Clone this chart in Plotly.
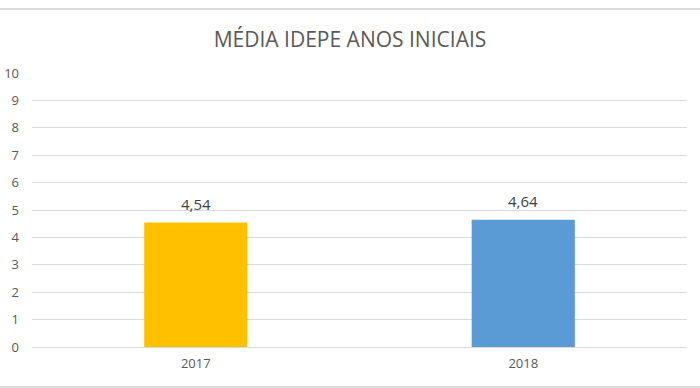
import plotly.graph_objects as go

categories = ["2017", "2018"]
values = [4.54, 4.64]
colors = ["#FFC000", "#5B9BD5"]
y_ticks = list(range(0, 11))

W, H = 700, 388
ml, mr, mt, mb = 32, 13, 73, 41
pw, ph = W - ml - mr, H - mt - mb
FONT = "Open Sans, Liberation Sans, sans-serif"

fig = go.Figure()
fig.add_trace(go.Bar(
    x=categories, y=values, marker=dict(color=colors, line=dict(width=0)),
    hoverinfo="skip",
))
for i, v in enumerate(values):
    fig.add_annotation(x=i, y=v, text=f"{v:.2f}".replace(".", ","), showarrow=False,
                       yanchor="bottom", yshift=7,
                       font=dict(family=FONT, size=15, color="#404040"))

fig.update_layout(
    width=W, height=H, margin=dict(l=ml, r=mr, t=mt, b=mb, autoexpand=False),
    paper_bgcolor="white", plot_bgcolor="white",
    separators=",.",
    bargap=0.685,
    showlegend=False,
    title=dict(text="MÉDIA IDEPE ANOS INICIAIS", x=0.5, xanchor="center", y=1 - 40 / H, yanchor="middle",
               font=dict(family=FONT, size=21, color="#595959")),
    xaxis=dict(type="category", range=[-0.5, 1.5], showgrid=False, showline=False, zeroline=False, ticks="",
               automargin=False,
               tickfont=dict(family=FONT, size=13, color="#595959"),
               ticklabelstandoff=7),
    yaxis=dict(range=[0, 10], tickvals=y_ticks, showgrid=True, gridcolor="#D9D9D9", gridwidth=1,
               automargin=False,
               zeroline=True, zerolinecolor="#D9D9D9", zerolinewidth=1, showline=False, ticks="",
               tickfont=dict(family=FONT, size=13, color="#595959"),
               ticklabelstandoff=12),
    shapes=[
        dict(type="line", xref="paper", yref="paper", x0=-ml / pw, x1=(W - ml) / pw,
             y0=1 + (mt - 9) / ph, y1=1 + (mt - 9) / ph, line=dict(color="#D0D0D0", width=1.5)),
        dict(type="line", xref="paper", yref="paper", x0=-ml / pw, x1=(W - ml) / pw,
             y0=-(387 - (H - mb)) / ph, y1=-(387 - (H - mb)) / ph, line=dict(color="#D0D0D0", width=1.5)),
    ],
)
fig.write_html("out.html", config={"displayModeBar": False},
               post_script="document.body.style.margin='0';document.body.style.overflow='hidden';")
